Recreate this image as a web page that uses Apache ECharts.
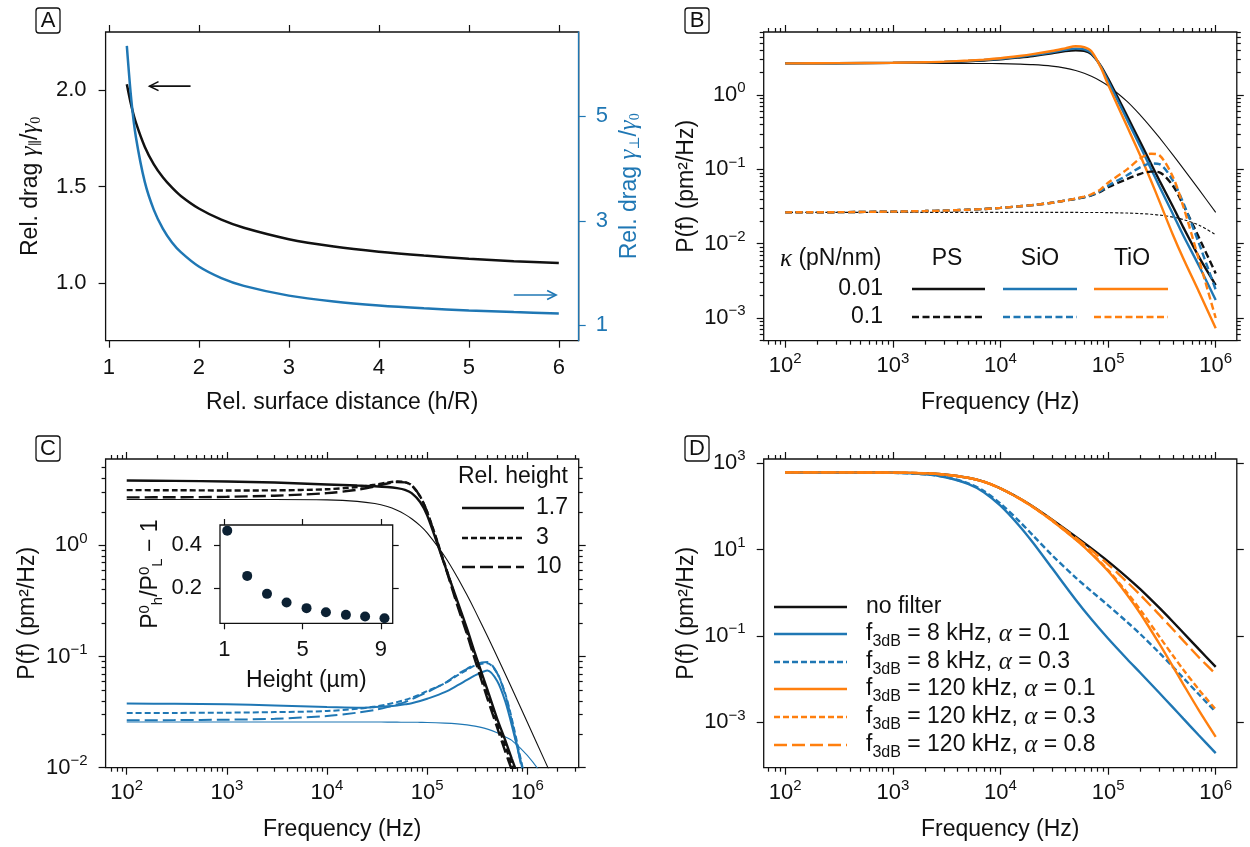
<!DOCTYPE html>
<html>
<head>
<meta charset="utf-8">
<script src="https://cdn.jsdelivr.net/npm/echarts@6/dist/echarts.min.js"></script>
<style>
  html, body { margin: 0; padding: 0; background: #ffffff; }
  #chart { width: 1250px; height: 847px; }
</style>
</head>
<body>
<div id="chart"></div>
<script>
// ---------------- Panel A: relative drag versus distance from the surface ----------------
const surfaceDistance   = [1.2, 1.25, 1.3, 1.4, 1.5, 1.6, 1.7, 1.8, 2.0, 2.25, 2.5, 3.0, 3.5, 4.0, 4.5, 5.0, 5.5, 6.0];
const dragParallel      = [2.03, 1.918, 1.832, 1.705, 1.615, 1.548, 1.495, 1.451, 1.386, 1.328, 1.286, 1.227, 1.189, 1.162, 1.142, 1.126, 1.113, 1.103];
const dragPerpendicular = [6.35, 5.31, 4.61, 3.74, 3.21, 2.85, 2.59, 2.40, 2.125, 1.904, 1.756, 1.569, 1.456, 1.380, 1.326, 1.285, 1.253, 1.228];
// arrows pointing at each curve's own axis: [xFrom, y, xTo, y]
const arrowParallel      = [1.908, 2.02, 1.452, 2.02];
const arrowPerpendicular = [5.50, 1.58, 5.97, 1.58];
const ticksA      = [1, 2, 3, 4, 5, 6];
const ticksALeft  = [1.0, 1.5, 2.0];
const ticksARight = [1, 3, 5];

// ---------------- Panel B: PSD for three bead materials, two trap stiffnesses ----------------
// values are log10 of P(f) in pm^2/Hz
const freqB = [100, 300, 1e3, 2e3, 3e3, 5e3, 7e3, 1e4, 1.5e4, 2e4, 3e4, 4e4, 5e4, 6e4, 7e4, 8.5e4, 1e5, 1.5e5, 2e5, 2.5e5, 3e5, 4e5, 5e5, 7e5, 1e6];
const psSoft   = [0.426, 0.428, 0.432, 0.438, 0.443, 0.455, 0.465, 0.48, 0.505, 0.525, 0.56, 0.59, 0.603, 0.595, 0.55, 0.40, 0.22, -0.28, -0.64, -0.92, -1.15, -1.50, -1.78, -2.18, -2.556];
const siSoft   = [0.426, 0.428, 0.433, 0.44, 0.446, 0.46, 0.472, 0.488, 0.515, 0.537, 0.575, 0.607, 0.625, 0.615, 0.565, 0.39, 0.19, -0.33, -0.70, -0.99, -1.23, -1.60, -1.89, -2.30, -2.758];
const tiSoft   = [0.426, 0.429, 0.434, 0.442, 0.449, 0.464, 0.477, 0.495, 0.525, 0.55, 0.592, 0.628, 0.657, 0.645, 0.59, 0.38, 0.14, -0.42, -0.82, -1.15, -1.43, -1.88, -2.20, -2.65, -3.139];
const bulkSoft = [0.426, 0.426, 0.426, 0.426, 0.426, 0.425, 0.424, 0.422, 0.416, 0.409, 0.389, 0.362, 0.329, 0.292, 0.252, 0.190, 0.125, -0.086, -0.273, -0.434, -0.574, -0.804, -0.989, -1.273, -1.578];
const psStiff   = [-1.578, -1.576, -1.568, -1.561, -1.555, -1.543, -1.533, -1.518, -1.497, -1.48, -1.45, -1.42, -1.397, -1.375, -1.35, -1.30, -1.24, -1.13, -1.06, -1.03, -1.04, -1.22, -1.48, -1.92, -2.40];
const siStiff   = [-1.578, -1.576, -1.568, -1.561, -1.555, -1.543, -1.533, -1.518, -1.497, -1.48, -1.45, -1.42, -1.395, -1.372, -1.345, -1.29, -1.22, -1.08, -0.97, -0.92, -0.93, -1.15, -1.45, -2.00, -2.62];
const tiStiff   = [-1.578, -1.576, -1.568, -1.561, -1.555, -1.543, -1.533, -1.518, -1.497, -1.48, -1.45, -1.42, -1.392, -1.367, -1.335, -1.27, -1.18, -1.00, -0.85, -0.79, -0.81, -1.10, -1.50, -2.22, -3.00];
const bulkStiff = [-1.578, -1.578, -1.578, -1.578, -1.578, -1.578, -1.578, -1.578, -1.578, -1.578, -1.578, -1.579, -1.579, -1.580, -1.580, -1.581, -1.582, -1.588, -1.595, -1.604, -1.615, -1.642, -1.675, -1.751, -1.879];

// ---------------- Panel C: PSD at three relative heights ----------------
const freqC = [100, 300, 1e3, 3e3, 1e4, 2e4, 3e4, 4e4, 5e4, 6e4, 7e4, 8.5e4, 1e5, 1.5e5, 2e5, 2.5e5, 3e5, 4e5, 5e5, 6e5, 7e5, 1e6, 1.5e6, 2e6];
const softH17  = [0.584, 0.58, 0.575, 0.565, 0.548, 0.538, 0.532, 0.525, 0.515, 0.50, 0.47, 0.39, 0.27, -0.18, -0.50, -0.75, -0.97, -1.30, -1.56, -1.75, -1.92, -2.3, -2.8, -3.2];
const softH3   = [0.497, 0.496, 0.494, 0.495, 0.505, 0.525, 0.545, 0.565, 0.575, 0.57, 0.54, 0.44, 0.30, -0.17, -0.52, -0.78, -1.0, -1.34, -1.60, -1.80, -1.97, -2.35, -2.85, -3.2];
const softH10  = [0.432, 0.433, 0.437, 0.447, 0.47, 0.50, 0.53, 0.557, 0.57, 0.567, 0.54, 0.44, 0.30, -0.18, -0.54, -0.80, -1.03, -1.38, -1.64, -1.85, -2.02, -2.4, -2.9, -3.2];
const softBulk = [0.413, 0.413, 0.413, 0.413, 0.409, 0.396, 0.376, 0.349, 0.316, 0.279, 0.239, 0.177, 0.112, -0.1, -0.286, -0.447, -0.587, -0.817, -1.002, -1.155, -1.286, -1.591, -1.941, -2.19];
const stiffH17  = [-1.423, -1.425, -1.43, -1.44, -1.455, -1.46, -1.455, -1.448, -1.44, -1.43, -1.42, -1.40, -1.38, -1.32, -1.26, -1.21, -1.17, -1.125, -1.22, -1.40, -1.62, -2.2, -3.0, -3.5];
const stiffH3   = [-1.508, -1.507, -1.505, -1.50, -1.49, -1.47, -1.45, -1.43, -1.41, -1.39, -1.37, -1.34, -1.31, -1.24, -1.17, -1.12, -1.08, -1.06, -1.15, -1.33, -1.56, -2.2, -3.0, -3.5];
const stiffH10  = [-1.574, -1.572, -1.568, -1.56, -1.535, -1.505, -1.48, -1.455, -1.43, -1.41, -1.385, -1.35, -1.32, -1.24, -1.16, -1.11, -1.07, -1.05, -1.15, -1.34, -1.58, -2.25, -3.0, -3.5];
const stiffBulk = [-1.589, -1.589, -1.589, -1.589, -1.589, -1.589, -1.589, -1.59, -1.59, -1.591, -1.591, -1.592, -1.593, -1.599, -1.606, -1.615, -1.626, -1.653, -1.686, -1.722, -1.754, -1.89, -2.1, -2.29];
// inset: excess plateau power versus height
const heightUm    = [1.15, 2.17, 3.18, 4.18, 5.2, 6.19, 7.21, 8.19, 9.18];
const excessPower = [0.466, 0.257, 0.174, 0.134, 0.108, 0.089, 0.077, 0.069, 0.061];
const ticksInsetX = [1, 5, 9];
const ticksInsetY = [0.2, 0.4];

// ---------------- Panel D: effect of a detector low-pass filter ----------------
const freqD = [100, 300, 1e3, 2e3, 3e3, 5e3, 7e3, 1e4, 1.5e4, 2e4, 3e4, 5e4, 7e4, 1e5, 1.5e5, 2e5, 3e5, 4e5, 5e5, 7e5, 1e6];
const noFilter = [2.79, 2.79, 2.785, 2.77, 2.74, 2.665, 2.575, 2.42, 2.19, 2.0, 1.70, 1.30, 1.03, 0.73, 0.36, 0.08, -0.35, -0.67, -0.925, -1.31, -1.715];
const f8a01    = [2.79, 2.789, 2.778, 2.744, 2.683, 2.524, 2.331, 2.018, 1.55, 1.166, 0.579, -0.16, -0.613, -1.058, -1.532, -1.856, -2.321, -2.653, -2.914, -3.304, -3.712];
const f8a03    = [2.79, 2.789, 2.779, 2.746, 2.688, 2.537, 2.357, 2.068, 1.655, 1.333, 0.877, 0.352, 0.037, -0.289, -0.674, -0.959, -1.393, -1.714, -1.97, -2.355, -2.76];
const f120a01  = [2.79, 2.79, 2.785, 2.77, 2.74, 2.664, 2.573, 2.417, 2.183, 1.988, 1.674, 1.231, 0.904, 0.504, -0.042, -0.485, -1.184, -1.707, -2.119, -2.727, -3.334];
const f120a03  = [2.79, 2.79, 2.785, 2.77, 2.74, 2.664, 2.573, 2.417, 2.184, 1.989, 1.676, 1.237, 0.916, 0.527, 0.008, -0.40, -1.017, -1.452, -1.78, -2.246, -2.70];
const f120a08  = [2.79, 2.79, 2.785, 2.77, 2.74, 2.665, 2.574, 2.418, 2.188, 1.996, 1.691, 1.276, 0.988, 0.661, 0.252, -0.053, -0.511, -0.844, -1.106, -1.497, -1.88];

// decade exponents carrying a labelled tick
const decadesX  = [2, 3, 4, 5, 6];
const decadesYB = [-3, -2, -1, 0];
const decadesYC = [-2, -1, 0];
const decadesYD = [-3, -1, 1, 3];

// ---------------- styling ----------------
const FONT = '"Liberation Sans", Arial, Helvetica, sans-serif';
const SERIF = '"Liberation Serif", "DejaVu Serif", serif';
const INK = '#111111';
const BLUE = '#1f77b4';
const ORANGE = '#ff7f0e';
const DOT = '#0c2133';
const THICK = 2.4, THIN = 1.1;
const SHORT_DASH = [6, 3], LONG_DASH = [13, 5], LEGEND_DASH = [7, 3.5];

function logMinorTicks(range) {
  const out = [];
  for (let n = Math.floor(range[0]) - 1; n <= Math.ceil(range[1]); n++) {
    for (let k = 2; k <= 9; k++) {
      const v = n + Math.log10(k);
      if (v > range[0] + 1e-6 && v < range[1] - 1e-6) out.push(v);
    }
  }
  return out;
}
function powLabel(v) {
  const e = Math.round(v);
  return '{b|10}{s|' + (e < 0 ? '\u2212' + (-e) : String(e)) + '}';
}
const powRich = {
  b: { fontFamily: FONT, fontSize: 22, lineHeight: 24, color: INK, verticalAlign: 'middle' },
  s: { fontFamily: FONT, fontSize: 15, lineHeight: 15, padding: [0, 0, 14, 0], color: INK, verticalAlign: 'middle' }
};
const nameStyle = { fontFamily: FONT, fontSize: 23, color: INK };

const grids = [], xAxes = [], yAxes = [], series = [];

function addGrid(g) {
  grids.push(Object.assign({ show: true, borderColor: INK, borderWidth: 1.3, backgroundColor: 'transparent',
    containLabel: false, outerBoundsMode: 'none' }, g));
  return grids.length - 1;
}
function valAxis(gridIndex, position, range, cfg) {
  const color = cfg.color || INK;
  return {
    type: 'value', gridIndex, position, min: range[0], max: range[1],
    axisLine: { show: !!cfg.line, onZero: false, lineStyle: { color, width: 1.3 } },
    splitLine: { show: false }, minorTick: { show: false }, minorSplitLine: { show: false },
    axisTick: { show: true, inside: false, length: cfg.len || 7, customValues: cfg.ticks, lineStyle: { color, width: 1.2 } },
    axisLabel: cfg.labels
      ? Object.assign({ show: true, customValues: cfg.labels, color, fontFamily: FONT, fontSize: 22, margin: cfg.margin, hideOverlap: false }, cfg.label || {})
      : { show: false },
    name: cfg.name || '', nameLocation: 'middle', nameGap: cfg.nameGap || 0, nameRotate: cfg.nameRotate,
    nameTextStyle: cfg.nameStyle || nameStyle,
    silent: true, z: 3
  };
}
// frame ticks for a log-log panel; values on both axes are decade exponents
function logPanel(gridIndex, xr, yr, yMajors, withYMinor) {
  const xMinors = logMinorTicks(xr);
  const yMinors = withYMinor ? logMinorTicks(yr) : [];
  const xi = xAxes.length;
  xAxes.push(valAxis(gridIndex, 'bottom', xr, { ticks: decadesX, labels: decadesX, margin: 13,
    label: { formatter: powLabel, rich: powRich }, name: 'Frequency (Hz)', nameGap: 50 }));
  xAxes.push(valAxis(gridIndex, 'bottom', xr, { ticks: xMinors, len: 4 }));
  xAxes.push(valAxis(gridIndex, 'top', xr, { ticks: decadesX }));
  xAxes.push(valAxis(gridIndex, 'top', xr, { ticks: xMinors, len: 4 }));
  const yi = yAxes.length;
  yAxes.push(valAxis(gridIndex, 'left', yr, { ticks: yMajors, labels: yMajors, margin: 18,
    label: { formatter: powLabel, rich: powRich }, name: 'P(f) (pm\u00b2/Hz)', nameGap: 66, nameRotate: 90 }));
  yAxes.push(valAxis(gridIndex, 'right', yr, { ticks: yMajors }));
  if (yMinors.length) {
    yAxes.push(valAxis(gridIndex, 'left', yr, { ticks: yMinors, len: 4 }));
    yAxes.push(valAxis(gridIndex, 'right', yr, { ticks: yMinors, len: 4 }));
  }
  return { xi, yi };
}
function curve(ax, freqs, logP, color, width, dash, z) {
  return {
    type: 'line', xAxisIndex: ax.xi, yAxisIndex: ax.yi,
    data: freqs.map((f, i) => [Math.log10(f), logP[i]]),
    showSymbol: false, symbol: 'none', smooth: 0.3, silent: true,
    lineStyle: { color, width, type: dash || 'solid', cap: 'butt' }, z: z || 2
  };
}
function arrowItem(color) {
  return function (params, api) {
    const a = api.coord([api.value(0), api.value(1)]);
    const b = api.coord([api.value(2), api.value(3)]);
    const dx = b[0] - a[0], dy = b[1] - a[1], L = Math.hypot(dx, dy);
    const ux = dx / L, uy = dy / L, h = 9, w = 4.5;
    const bx = b[0] - ux * h, by = b[1] - uy * h;
    return { type: 'group', children: [
      { type: 'line', shape: { x1: a[0], y1: a[1], x2: b[0], y2: b[1] }, style: { stroke: color, lineWidth: 1.6 } },
      { type: 'polyline', shape: { points: [[bx - uy * w, by + ux * w], [b[0], b[1]], [bx + uy * w, by - ux * w]] },
        style: { stroke: color, lineWidth: 1.6, fill: null } }
    ] };
  };
}

// ---------------- Panel A ----------------
const gA = addGrid({ left: 105.6, top: 32, width: 473.1, height: 308.7 });
const xA = xAxes.length;
xAxes.push(valAxis(gA, 'bottom', [0.964, 6.221], { ticks: ticksA, labels: ticksA, margin: 15,
  label: { lineHeight: 24, formatter: v => String(Math.round(v)) }, name: 'Rel. surface distance (h/R)', nameGap: 50 }));
xAxes.push(valAxis(gA, 'top', [0.964, 6.221], { ticks: ticksA }));
const dragRich = color => ({
  t: { fontFamily: FONT, fontSize: 23, color, verticalAlign: 'middle' },
  g: { fontFamily: SERIF, fontStyle: 'italic', fontSize: 25, color, verticalAlign: 'middle' },
  d: { fontFamily: SERIF, fontSize: 14, color, padding: [12, 0, 0, 0], verticalAlign: 'middle' }
});
const yAL = yAxes.length;
yAxes.push(valAxis(gA, 'left', [0.701, 2.3005], { ticks: ticksALeft, labels: ticksALeft, margin: 19,
  label: { formatter: v => v.toFixed(1) },
  name: '{t|Rel. drag }{g|\u03b3}{d|\u2225}{t|/}{g|\u03b3}{d|0}', nameGap: 62, nameRotate: 90,
  nameStyle: { fontFamily: FONT, fontSize: 23, color: INK, rich: dragRich(INK) } }));
const yAR = yAxes.length;
yAxes.push(valAxis(gA, 'right', [0.706, 6.614], { ticks: ticksARight, labels: ticksARight, margin: 17, line: true, color: BLUE,
  label: { formatter: v => String(Math.round(v)) },
  name: '{t|Rel. drag }{g|\u03b3}{d|\u22a5}{t|/}{g|\u03b3}{d|0}', nameGap: 38, nameRotate: 90,
  nameStyle: { fontFamily: FONT, fontSize: 23, color: BLUE, rich: dragRich(BLUE) } }));

series.push({ type: 'line', xAxisIndex: xA, yAxisIndex: yAL, data: surfaceDistance.map((h, i) => [h, dragParallel[i]]),
  showSymbol: false, symbol: 'none', smooth: 0.3, silent: true, lineStyle: { color: INK, width: 2.5 } });
series.push({ type: 'line', xAxisIndex: xA, yAxisIndex: yAR, data: surfaceDistance.map((h, i) => [h, dragPerpendicular[i]]),
  showSymbol: false, symbol: 'none', smooth: 0.3, silent: true, lineStyle: { color: BLUE, width: 2.5 } });
series.push({ type: 'custom', xAxisIndex: xA, yAxisIndex: yAL, data: [arrowParallel], dimensions: ['x0', 'y0', 'x1', 'y1'],
  encode: { x: [0, 2], y: [1, 3] }, renderItem: arrowItem(INK), clip: false, silent: true, z: 5 });
series.push({ type: 'custom', xAxisIndex: xA, yAxisIndex: yAR, data: [arrowPerpendicular], dimensions: ['x0', 'y0', 'x1', 'y1'],
  encode: { x: [0, 2], y: [1, 3] }, renderItem: arrowItem(BLUE), clip: false, silent: true, z: 5 });

// ---------------- Panel B ----------------
const gB = addGrid({ left: 763.7, top: 32, width: 473.1, height: 308.7 });
const axB = logPanel(gB, [1.8, 6.196], [-3.305, 0.848], decadesYB, true);
series.push(curve(axB, freqB, bulkSoft, INK, THIN));
series.push(curve(axB, freqB, bulkStiff, INK, THIN, [3, 2]));
series.push(curve(axB, freqB, psSoft, INK, THICK));
series.push(curve(axB, freqB, siSoft, BLUE, THICK));
series.push(curve(axB, freqB, tiSoft, ORANGE, THICK));
series.push(curve(axB, freqB, psStiff, INK, THICK, LEGEND_DASH));
series.push(curve(axB, freqB, siStiff, BLUE, THICK, LEGEND_DASH));
series.push(curve(axB, freqB, tiStiff, ORANGE, THICK, LEGEND_DASH));

// ---------------- Panel C ----------------
const gC = addGrid({ left: 105.6, top: 459, width: 473.1, height: 308.7 });
const axC = logPanel(gC, [1.789, 6.513], [-2, 0.777], decadesYC, true);
series.push(curve(axC, freqC, softBulk, INK, THIN));
series.push(curve(axC, freqC, stiffBulk, BLUE, THIN));
series.push(curve(axC, freqC, stiffH17, BLUE, THICK - 0.4));
series.push(curve(axC, freqC, stiffH3, BLUE, THICK - 0.4, SHORT_DASH));
series.push(curve(axC, freqC, stiffH10, BLUE, THICK - 0.4, LONG_DASH));
series.push(curve(axC, freqC, softH17, INK, THICK));
series.push(curve(axC, freqC, softH3, INK, THICK, SHORT_DASH));
series.push(curve(axC, freqC, softH10, INK, THICK, LONG_DASH));

// inset of panel C
const gI = addGrid({ left: 220, top: 525, width: 172.7, height: 98.3, backgroundColor: '#ffffff', z: 4 });
const xI = xAxes.length;
xAxes.push(valAxis(gI, 'bottom', [0.78, 9.6], { ticks: ticksInsetX, labels: ticksInsetX, margin: 15, len: 6,
  label: { lineHeight: 24, formatter: v => String(Math.round(v)) }, name: 'Height (\u00b5m)', nameGap: 46 }));
xAxes.push(valAxis(gI, 'top', [0.78, 9.6], { ticks: ticksInsetX, len: 6 }));
const yI = yAxes.length;
yAxes.push(valAxis(gI, 'left', [0.038, 0.492], { ticks: ticksInsetY, labels: ticksInsetY, margin: 18, len: 6,
  label: { formatter: v => v.toFixed(1) },
  name: '{t|P}{p|0}{d|h}{t|/P}{p|0}{d|L}{t| \u2212 1}', nameGap: 55, nameRotate: 90,
  nameStyle: { fontFamily: FONT, fontSize: 23, color: INK, rich: {
    t: { fontFamily: FONT, fontSize: 23, color: INK, verticalAlign: 'middle' },
    p: { fontFamily: FONT, fontSize: 15, color: INK, padding: [0, 0, 13, 0], verticalAlign: 'middle' },
    d: { fontFamily: FONT, fontSize: 15, color: INK, padding: [13, 0, 0, 0], verticalAlign: 'middle' } } } }));
yAxes.push(valAxis(gI, 'right', [0.038, 0.492], { ticks: ticksInsetY, len: 6 }));
series.push({ type: 'scatter', xAxisIndex: xI, yAxisIndex: yI, data: heightUm.map((h, i) => [h, excessPower[i]]),
  symbol: 'circle', symbolSize: 10, itemStyle: { color: DOT, opacity: 1 }, silent: true, clip: false, z: 6 });

// ---------------- Panel D ----------------
const gD = addGrid({ left: 763.7, top: 459, width: 473.1, height: 308.7 });
const axD = logPanel(gD, [1.8, 6.196], [-4.05, 3.1], decadesYD, false);
series.push(curve(axD, freqD, noFilter, INK, THICK));
series.push(curve(axD, freqD, f8a01, BLUE, THICK));
series.push(curve(axD, freqD, f8a03, BLUE, THICK, SHORT_DASH));
series.push(curve(axD, freqD, f120a01, ORANGE, THICK));
series.push(curve(axD, freqD, f120a03, ORANGE, THICK, SHORT_DASH));
series.push(curve(axD, freqD, f120a08, ORANGE, THICK, LONG_DASH));

// ---------------- legends and panel tags ----------------
const graphics = [];
function txt(x, y, text, align, extra) {
  graphics.push({ type: 'text', x, y, z: 20, silent: true,
    style: Object.assign({ text, fill: INK, fontFamily: FONT, fontSize: 23, align: align || 'left', verticalAlign: 'middle',
      textAlign: align || 'left', textVerticalAlign: 'middle' }, extra || {}) });
}
function seg(x1, x2, y, color, dash) {
  graphics.push({ type: 'line', z: 20, silent: true, shape: { x1, y1: y, x2, y2: y },
    style: { stroke: color, lineWidth: THICK, lineDash: dash || null } });
}
function tag(letter, x, y) {
  graphics.push({ type: 'rect', z: 20, silent: true, shape: { x, y, width: 24, height: 25, r: 3 },
    style: { fill: '#ffffff', stroke: INK, lineWidth: 1.3 } });
  txt(x + 12, y + 13, letter, 'center', { fontSize: 22 });
}
tag('A', 36, 8); tag('B', 685, 8); tag('C', 36, 436); tag('D', 685, 436);

// panel B: stiffness × material table
const greek = { t: { fontFamily: FONT, fontSize: 23, fill: INK, verticalAlign: 'middle' },
                g: { fontFamily: SERIF, fontStyle: 'italic', fontSize: 25, fill: INK, verticalAlign: 'middle' } };
txt(780, 259, '{g|\u03ba}{t| (pN/nm)}', 'left', { rich: greek });
txt(947, 259, 'PS', 'center'); txt(1040, 259, 'SiO', 'center'); txt(1132, 259, 'TiO', 'center');
txt(883, 289, '0.01', 'right'); txt(883, 317, '0.1', 'right');
seg(912, 985, 289, INK); seg(1003, 1077, 289, BLUE); seg(1094, 1168, 289, ORANGE);
seg(912, 985, 317, INK, LEGEND_DASH); seg(1003, 1077, 317, BLUE, LEGEND_DASH); seg(1094, 1168, 317, ORANGE, LEGEND_DASH);

// panel C: relative height key
txt(458, 477, 'Rel. height');
seg(462, 524, 508, INK); txt(536, 508, '1.7');
seg(462, 524, 538, INK, SHORT_DASH); txt(536, 538, '3');
seg(462, 524, 567, INK, LONG_DASH); txt(536, 567, '10');

// panel D: filter key
const filterRich = {
  t: { fontFamily: FONT, fontSize: 23, fill: INK, verticalAlign: 'middle' },
  d: { fontFamily: FONT, fontSize: 16, fill: INK, padding: [15, 0, 0, 0], verticalAlign: 'middle' },
  g: { fontFamily: SERIF, fontStyle: 'italic', fontSize: 25, fill: INK, verticalAlign: 'middle' }
};
const filterRows = [
  [607, INK, null, '{t|no filter}'],
  [634, BLUE, null, '{t|f}{d|3dB}{t| = 8 kHz, }{g|\u03b1}{t| = 0.1}'],
  [662, BLUE, SHORT_DASH, '{t|f}{d|3dB}{t| = 8 kHz, }{g|\u03b1}{t| = 0.3}'],
  [689, ORANGE, null, '{t|f}{d|3dB}{t| = 120 kHz, }{g|\u03b1}{t| = 0.1}'],
  [717, ORANGE, SHORT_DASH, '{t|f}{d|3dB}{t| = 120 kHz, }{g|\u03b1}{t| = 0.3}'],
  [745, ORANGE, LONG_DASH, '{t|f}{d|3dB}{t| = 120 kHz, }{g|\u03b1}{t| = 0.8}']
];
filterRows.forEach(r => { seg(774, 847, r[0], r[1], r[2]); txt(866, r[0], r[3], 'left', { rich: filterRich }); });

const chart = echarts.init(document.getElementById('chart'), null, { renderer: 'canvas' });
chart.setOption({
  backgroundColor: '#ffffff',
  animation: false,
  textStyle: { fontFamily: FONT },
  grid: grids, xAxis: xAxes, yAxis: yAxes, series, graphic: graphics
});
</script>
</body>
</html>
